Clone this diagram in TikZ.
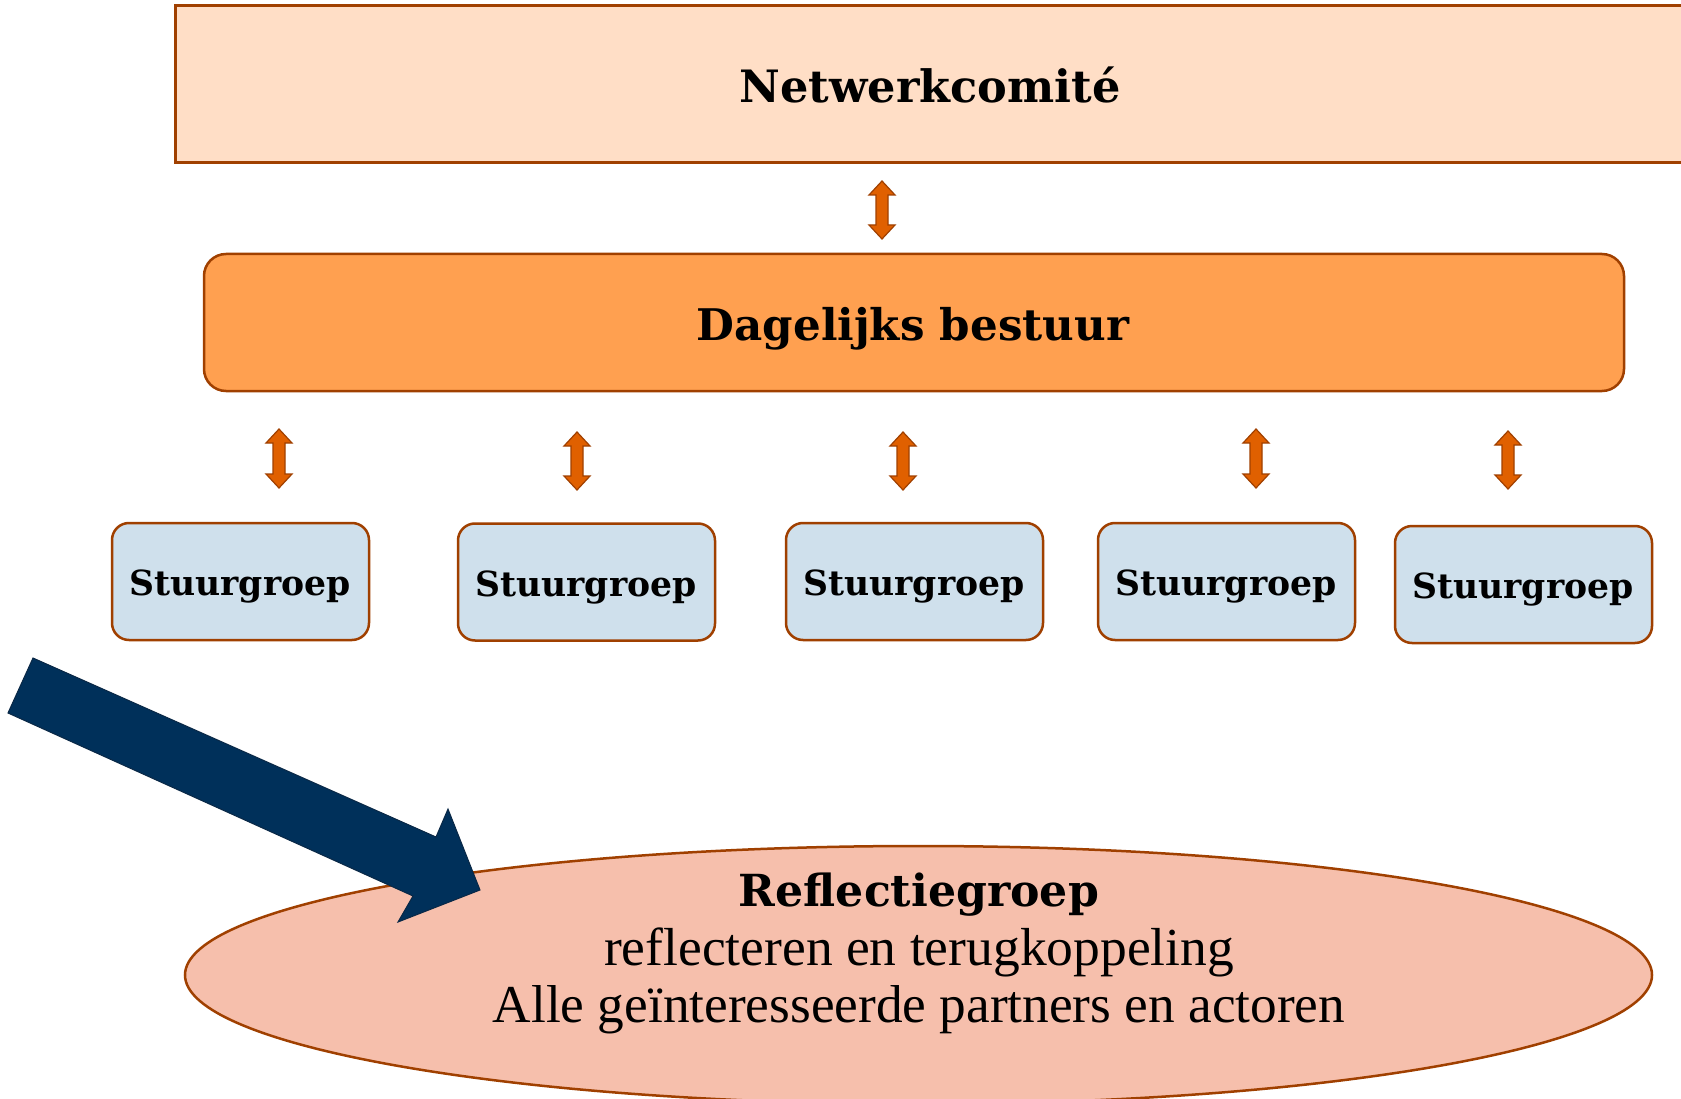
\documentclass[tikz,border=0pt]{standalone}
\usepackage{fontspec}
\setmainfont{Liberation Serif}
\newfontfamily\headfont{DejaVu Serif}
\usetikzlibrary{shapes.geometric}
\definecolor{brd}{RGB}{160,64,0}
\definecolor{topfill}{RGB}{255,222,198}
\definecolor{dbfill}{RGB}{255,160,80}
\definecolor{sgfill}{RGB}{207,224,236}
\definecolor{elfill}{RGB}{246,191,172}
\definecolor{arrfill}{RGB}{224,96,0}
\definecolor{navy}{RGB}{0,48,90}
\definecolor{navyline}{RGB}{10,40,70}
\tikzset{
  topbox/.style={draw=brd, line width=3pt, fill=topfill, rectangle, inner sep=0pt},
  dbbox/.style={draw=brd, line width=2.5pt, fill=dbfill, rectangle, rounded corners=22pt, inner sep=0pt},
  sgbox/.style={draw=brd, line width=2.5pt, fill=sgfill, rectangle, rounded corners=17pt, inner sep=0pt, minimum width=257pt, minimum height=117pt},
  elbox/.style={draw=brd, line width=2.5pt, fill=elfill, ellipse, inner sep=0pt},
  headtxt/.style={anchor=base, inner sep=0pt, font=\headfont\bfseries},
  plaintxt/.style={anchor=base, inner sep=0pt},
  arrstyle/.style={draw=brd, line width=1.2pt, fill=arrfill, line join=miter},
  bigarrow/.style={draw=navyline, line width=1pt, fill=navy, line join=miter}
}
\newcommand\dblarr[3]{%
  \draw[arrstyle] (#1,#2) -- (#1+13,#2+14) -- (#1+6,#2+14) -- (#1+6,#3-14) -- (#1+13,#3-14) -- (#1,#3) -- (#1-13,#3-14) -- (#1-6,#3-14) -- (#1-6,#2+14) -- (#1-13,#2+14) -- cycle;}
\begin{document}
\begin{tikzpicture}[x=1pt, y=-1pt]
\useasboundingbox (0,0) rectangle (1681,1099);
\clip (0,0) rectangle (1681,1099);
\fill[white] (0,0) rectangle (1681,1099);

% Netwerkcomite
\node[topbox, minimum width=1515pt, minimum height=157pt] (nc) at (932.5,84.5) {};
\node[headtxt, font=\headfont\bfseries\fontsize{44.6}{50}\selectfont] (nct) at (930,103) {Netwerkcomité};

\dblarr{882}{181}{239}

% Dagelijks bestuur
\node[dbbox, minimum width=1420pt, minimum height=137pt] (db) at (914,322.5) {};
\node[headtxt, font=\headfont\bfseries\fontsize{43.6}{48}\selectfont] (dbt) at (913,340) {Dagelijks bestuur};

\dblarr{279}{429}{488}
\dblarr{577}{432}{490}
\dblarr{903}{432}{490}
\dblarr{1256}{429}{488}
\dblarr{1508}{431}{489}

% Stuurgroepen
\node[sgbox] (s1) at (240.5,581.5) {};
\node[sgbox] (s2) at (586.5,582) {};
\node[sgbox] (s3) at (914.5,581.5) {};
\node[sgbox] (s4) at (1226.5,581.5) {};
\node[sgbox] (s5) at (1523.5,584.5) {};
\foreach \n/\x/\y in {1/240/595, 2/586/596, 3/914/595, 4/1226/595, 5/1523/598}
  \node[headtxt, font=\headfont\bfseries\fontsize{34.6}{40}\selectfont] (st\n) at (\x,\y) {Stuurgroep};

% Reflectiegroep
\node[elbox, minimum width=1467pt, minimum height=258pt] (rg) at (918.5,975) {};
\node[headtxt, font=\headfont\bfseries\fontsize{44.2}{50}\selectfont] (rg1) at (919,906) {Reflectiegroep};
\node[plaintxt, font=\fontsize{53.5}{60}\selectfont] (rg2) at (919,965) {reflecteren en terugkoppeling};
\node[plaintxt, font=\fontsize{53.3}{60}\selectfont] (rg3) at (919,1022) {Alle geïnteresseerde partners en actoren};

% big arrow
\draw[bigarrow] (33,658) -- (436,837) -- (448,809) -- (480,890) -- (398,922) -- (413,896) -- (8,713) -- cycle;
\end{tikzpicture}
\end{document}
